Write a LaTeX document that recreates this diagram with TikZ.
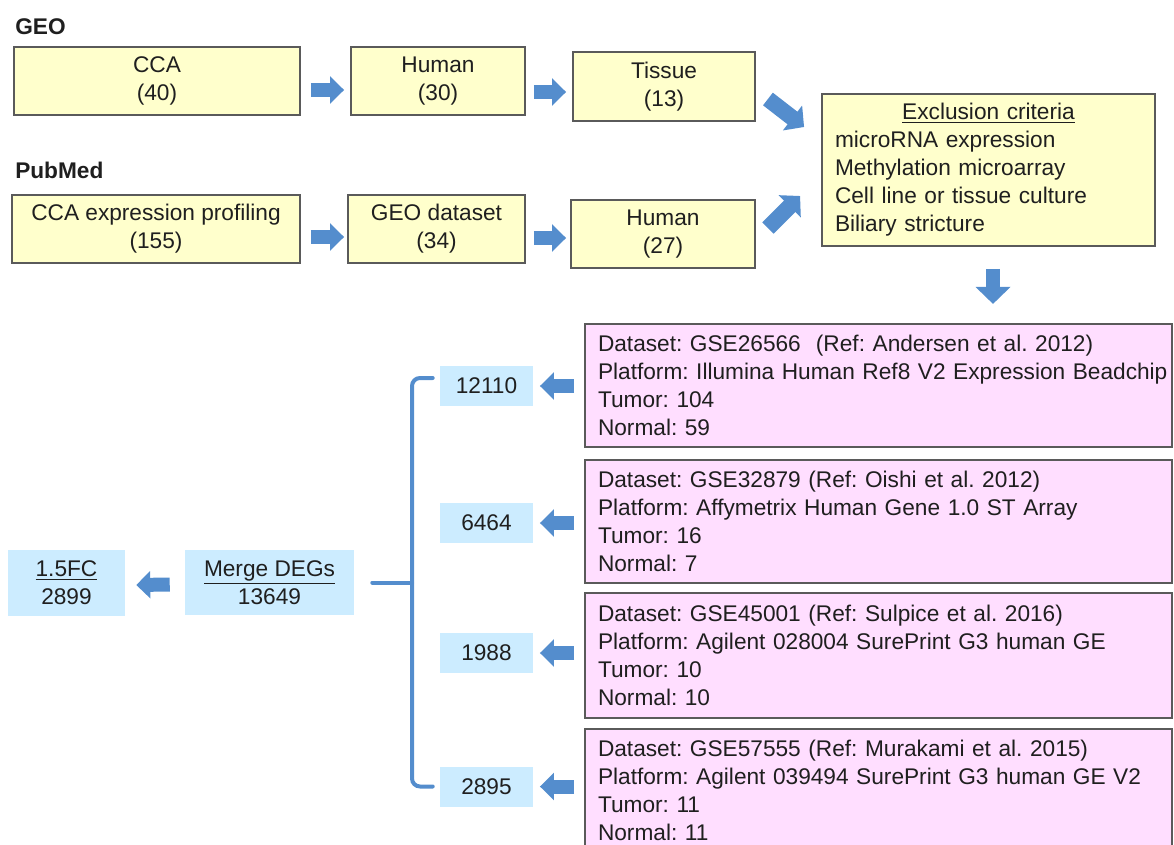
\documentclass[tikz,border=0pt]{standalone}
\usepackage{fontspec}
\setmainfont{Liberation Sans}
\usetikzlibrary{arrows.meta}
\definecolor{boxyellow}{RGB}{255,255,204}
\definecolor{boxpink}{RGB}{255,222,255}
\definecolor{boxblue}{RGB}{204,236,255}
\definecolor{arrowblue}{RGB}{84,141,205}
\definecolor{edgegray}{RGB}{90,90,90}
\newdimen\pxu \pxu=0.75pt
\frenchspacing
\begin{document}
\begin{tikzpicture}[x=0.75pt,y=-0.75pt,
    every node/.style={font=\fontsize{17pt}{21pt}\selectfont,text=black!88,inner sep=0pt},
    lbl/.style={font=\fontsize{17pt}{21pt}\selectfont\bfseries,anchor=west},
    ybox/.style={draw=edgegray,line width=1.4pt,fill=boxyellow,align=center},
    pbox/.style={draw=edgegray,line width=1.2pt,fill=boxpink,align=left,
      text width=561\pxu,minimum width=587\pxu,minimum height=123\pxu},
    nbox/.style={fill=boxblue,align=center},
    harrow/.style={draw=arrowblue,line width=10.5pt,-{Triangle[length=10.5pt,width=20pt]}},
    darrow/.style={draw=arrowblue,line width=12pt,-{Triangle[length=11pt,width=23pt]}},
    varrow/.style={draw=arrowblue,line width=10pt,-{Triangle[length=12.75pt,width=25.5pt]}},
    bracket/.style={draw=arrowblue,line width=3pt,line cap=round}]
  \useasboundingbox (0,0) rectangle (1174,845);

  \node[lbl] (geo) at (15,27) {GEO};
  \node[lbl] (pubmed) at (15,170) {PubMed};

  \node[ybox,minimum width=286\pxu,minimum height=68\pxu] (cca) at (157,81) {CCA\\(40)};
  \node[ybox,minimum width=174\pxu,minimum height=68\pxu] (human) at (438,81) {Human\\(30)};
  \node[ybox,minimum width=182\pxu,minimum height=69\pxu] (tissue) at (664,86.5) {Tissue\\(13)};
  \node[ybox,minimum width=288\pxu,minimum height=68\pxu] (ccaprof) at (156,229) {CCA expression profiling\\(155)};
  \node[ybox,minimum width=177\pxu,minimum height=68\pxu] (geods) at (436.5,229) {GEO dataset\\(34)};
  \node[ybox,minimum width=184\pxu,minimum height=68\pxu] (human2) at (663,234) {Human\\(27)};
  \node[ybox,align=left,text width=307\pxu,minimum width=333\pxu,minimum height=152\pxu] (excl) at (988.5,170)
    {\makebox[\linewidth]{\underline{Exclusion criteria}}\\microRNA expression\\Methylation microarray\\Cell line or tissue culture\\Biliary stricture};

  \draw[harrow] ([shift={(10,9)}]cca.east) -- ([shift={(-6,9)}]human.west);
  \draw[harrow] ([shift={(8,11)}]human.east) -- ([shift={(-6,5.5)}]tissue.west);
  \draw[harrow] ([shift={(10,8)}]ccaprof.east) -- ([shift={(-3,8)}]geods.west);
  \draw[harrow] ([shift={(8,9)}]geods.east) -- ([shift={(-4,4)}]human2.west);
  \draw[darrow] ([shift={(12,12.5)}]tissue.east) -- ([shift={(-17,-43)}]excl.west);
  \draw[darrow] ([shift={(12,-6)}]human2.east) -- ([shift={(-21,26)}]excl.west);
  \draw[varrow] ([shift={(4.5,22)}]excl.south) -- ++(0,35);

  \node[pbox] (p1) at (878.5,385.5) {Dataset: GSE26566~ (Ref: Andersen et al. 2012)\\\mbox{Platform: Illumina Human Ref8 V2 Expression Beadchip}\\Tumor: 104\\Normal: 59};
  \node[pbox] (p2) at (878.5,521.5) {Dataset: GSE32879 (Ref: Oishi et al. 2012)\\\mbox{Platform: Affymetrix Human Gene 1.0 ST Array}\\Tumor: 16\\Normal: 7};
  \node[pbox,minimum height=125\pxu] (p3) at (878.5,655.5) {Dataset: GSE45001 (Ref: Sulpice et al. 2016)\\\mbox{Platform: Agilent 028004 SurePrint G3 human GE}\\Tumor: 10\\Normal: 10};
  \node[pbox] (p4) at (878.5,790.5) {Dataset: GSE57555 (Ref: Murakami et al. 2015)\\\mbox{Platform: Agilent 039494 SurePrint G3 human GE V2}\\Tumor: 11\\Normal: 11};

  \node[nbox,minimum width=93\pxu,minimum height=40\pxu] (n1) at (486.5,386) {12110};
  \node[nbox,minimum width=93\pxu,minimum height=40\pxu] (n2) at (486.5,523) {6464};
  \node[nbox,minimum width=93\pxu,minimum height=40\pxu] (n3) at (486.5,653) {1988};
  \node[nbox,minimum width=93\pxu,minimum height=40\pxu] (n4) at (486.5,786.5) {2895};

  \draw[harrow,shorten <=7.5pt,shorten >=5pt] (p1.west |- n1.east) -- (n1.east);
  \draw[harrow,shorten <=7.5pt,shorten >=5pt] (p2.west |- n2.east) -- (n2.east);
  \draw[harrow,shorten <=7.5pt,shorten >=5pt] (p3.west |- n3.east) -- (n3.east);
  \draw[harrow,shorten <=7.5pt,shorten >=5pt] (p4.west |- n4.east) -- (n4.east);

  \node[nbox,minimum width=169\pxu,minimum height=65\pxu] (merge) at (269.5,582.5) {\underline{Merge DEGs}\\13649};
  \node[nbox,minimum width=117\pxu,minimum height=66\pxu] (fc) at (66.5,583) {\underline{1.5FC}\\2899};

  \coordinate (brx) at (412,582.5);
  \draw[bracket,rounded corners=6] ([shift={(-7,-8)}]n1.west) -| (brx) |- ([shift={(-7,0)}]n4.west);
  \draw[bracket] ([shift={(18,0)}]merge.east) -- (brx);
  \draw[harrow] ([shift={(-15,2)}]merge.west) -- ([shift={(11,2)}]fc.east);
\end{tikzpicture}
\end{document}
